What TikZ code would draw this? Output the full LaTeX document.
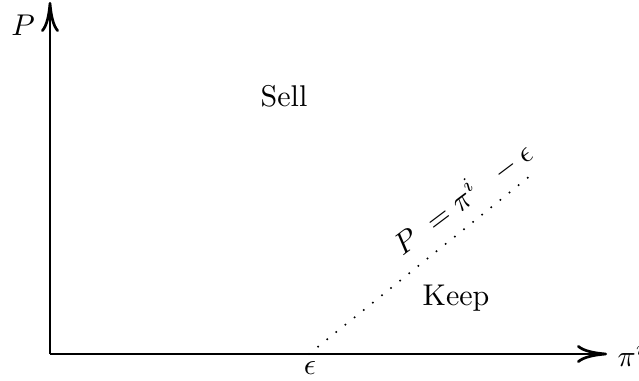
\documentclass[tikz,border=0pt]{standalone}
\usetikzlibrary{arrows.meta}
\begin{document}
\begin{tikzpicture}[x=0.3333pt,y=-0.3333pt,
  axis/.style={line width=0.9pt,-{To[length=10pt,width=6pt]}},
  boundary/.style={line width=0.75pt,line cap=round,dash pattern=on 0pt off 3.9pt},
  lbl/.style={inner sep=0pt}]
\useasboundingbox (0,0) rectangle (639,381);
\coordinate (O) at (50,354);
\coordinate (xend) at (607,354);
\coordinate (yend) at (50,2);
\coordinate (e) at (309,354);
\coordinate (dend) at (535,172);
\draw[axis] (O) -- (xend);
\draw[axis] (O) -- (yend);
\draw[boundary] (e) -- (dend);
\node[lbl,anchor=west] (xl) at (617,354) {$\pi^i$};
\node[lbl] (yl) at (23,25) {$P$};
\node[lbl] (eps) at (310,368) {$\epsilon$};
\node[lbl] (sell) at (284,96) {Sell};
\node[lbl] (keep) at (456,298) {Keep};
\node[lbl,rotate=37] (eq) at (462,198) {$P\;=\pi^i\;\;-\epsilon$};
\end{tikzpicture}
\end{document}
